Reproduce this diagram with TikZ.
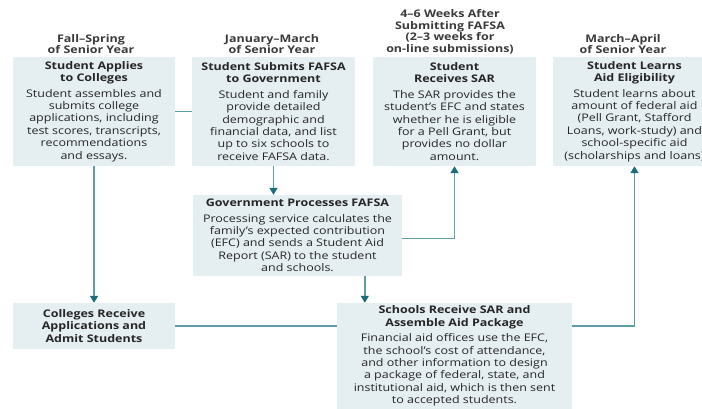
\documentclass[tikz,border=0pt]{standalone}
\usepackage{fontspec}
\setsansfont[FakeStretch=1.19]{Open Sans}
\usepackage{tikz}
\usetikzlibrary{arrows.meta}
\definecolor{boxblue}{HTML}{E5EEF1}
\definecolor{linkteal}{HTML}{5F9EA8}
\definecolor{tipteal}{HTML}{1D6C79}
\definecolor{headgray}{HTML}{3A3A3A}

\begin{document}
\begin{tikzpicture}[x=1pt,y=-1pt,
	stage/.style={fill=boxblue, align=center, inner sep=0pt, text=black!85,
		font=\sffamily\fontsize{10.5}{12.4}\selectfont},
	period/.style={align=center, text=headgray,
		font=\sffamily\bfseries\fontsize{10.5}{11.6}\selectfont},
	link/.style={linkteal, line width=1.4pt},
	flow/.style={link, -{Triangle[width=8pt,length=7pt,color=tipteal]}}]
		\useasboundingbox (0,0) rectangle (702,409);
		% time of year
		\node[period] (t1) at (91,44) {Fall--Spring\\of Senior Year};
		\node[period] (t2) at (272,44) {January--March\\of Senior Year};
		\node[period] (t3) at (450,32) {4--6 Weeks After\\Submitting FAFSA\\(2--3 weeks for\\on-line submissions)};
		\node[period] (t4) at (623,44) {March--April\\of Senior Year};
		% top row
		\node[stage, minimum width=162pt, minimum height=109pt] (apply) at (94,111.5)
			{\textbf{Student Applies}\\\textbf{to Colleges}\\[3pt]Student assembles and\\submits college\\applications, including\\test scores, transcripts,\\recommendations\\and essays.};
		\node[stage, minimum width=163pt, minimum height=109pt] (submit) at (273.5,111.5)
			{\textbf{Student Submits FAFSA}\\\textbf{to Government}\\[3pt]Student and family\\provide detailed\\demographic and\\financial data, and list\\up to six schools to\\receive FAFSA data.};
		\node[stage, minimum width=163pt, minimum height=109pt] (sar) at (454.5,111.5)
			{\textbf{Student}\\\textbf{Receives SAR}\\[3pt]The SAR provides the\\student's EFC and states\\whether he is eligible\\for a Pell Grant, but\\provides no dollar\\amount.};
		\node[stage, minimum width=163pt, minimum height=109pt] (learn) at (634.5,111.5)
			{\textbf{Student Learns}\\\textbf{Aid Eligibility}\\[3pt]Student learns about\\amount of federal aid\\(Pell Grant, Stafford\\Loans, work-study) and\\school-specific aid\\(scholarships and loans)};
		% middle and bottom
		\node[stage, minimum width=209pt, minimum height=81pt] (process) at (297.5,235.5)
			{\textbf{Government Processes FAFSA}\\[3pt]Processing service calculates the\\family's expected contribution\\(EFC) and sends a Student Aid\\Report (SAR) to the student\\and schools.};
		\node[stage, minimum width=162pt, minimum height=46pt] (admit) at (94,326)
			{\textbf{Colleges Receive}\\\textbf{Applications and}\\\textbf{Admit Students}};
		\node[stage, minimum width=235pt, minimum height=106pt] (package) at (454.5,356)
			{\textbf{Schools Receive SAR and}\\\textbf{Assemble Aid Package}\\[3pt]Financial aid offices use the EFC,\\the school's cost of attendance,\\and other information to design\\a package of federal, state, and\\institutional aid, which is then sent\\to accepted students.};
		% connectors
		\coordinate (drop) at ([xshift=28pt]package.north west);
		\draw[link] (apply.east) -- (submit.west);
		\draw[flow] (apply.south) -- (admit.north);
		\draw[flow] (submit.south) -- (submit.south |- process.north);
		\draw[flow] ([yshift=-3pt]process.east) -| (sar.south);
		\draw[flow] (process.south -| drop) -- (drop);
		\draw[link] (admit.east) -- (admit.east -| package.west);
		\draw[flow] (admit.east -| package.east) -| (learn.south);
\end{tikzpicture}
\end{document}
